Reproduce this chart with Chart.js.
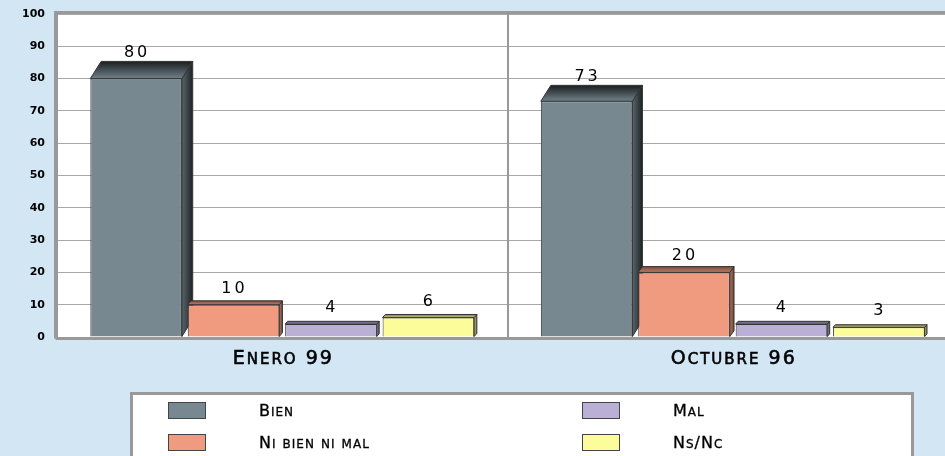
<!DOCTYPE html>
<html>
<head>
<meta charset="utf-8">
<script src="https://cdn.jsdelivr.net/npm/chart.js@4/dist/chart.umd.min.js"></script>
<style>
  html, body { margin: 0; padding: 0; overflow: hidden; background: #d2e6f4; }
  #wrap { width: 960px; height: 456px; }
</style>
</head>
<body>
<div id="wrap"><canvas id="c" width="960" height="456"></canvas></div>
<script>
const categories = ['Enero 99', 'Octubre 96'];
const seriesNames = ['Bien', 'Ni bien ni mal', 'Mal', 'Ns/Nc'];
const bien = [80, 73];
const niBienNiMal = [10, 20];
const mal = [4, 4];
const nsNc = [6, 3];
const yTicks = [0, 10, 20, 30, 40, 50, 60, 70, 80, 90, 100];

const colors = ['#778891', '#f09a80', '#bab0d5', '#fcfc9a'];
const FONT = '"DejaVu Sans", sans-serif';

function shade(hex, f) {
  const n = parseInt(hex.slice(1), 16);
  const r = Math.round(((n >> 16) & 255) * f), g = Math.round(((n >> 8) & 255) * f), b = Math.round((n & 255) * f);
  return `rgb(${r},${g},${b})`;
}
function depth(v) { return { dx: 2 + 0.11 * v, dy: 2 + 0.19 * v }; }

// draw text in small caps: capitals & digits at full size, lowercase as smaller capitals
function smallCaps(ctx, text, x, y, size, align, spacing, weight) {
  const small = Math.round(size * 0.78);
  const parts = [];
  for (const ch of text) {
    const isLower = ch !== ch.toUpperCase();
    parts.push({ ch: ch.toUpperCase(), sz: isLower ? small : size });
  }
  ctx.letterSpacing = '0px';
  let total = 0;
  parts.forEach(p => {
    ctx.font = `${p.sz}px ${FONT}`;
    p.w = ctx.measureText(p.ch).width + spacing;
    total += p.w;
  });
  total -= spacing;
  let cx = align === 'center' ? x - total / 2 : x;
  ctx.textAlign = 'left';
  ctx.textBaseline = 'alphabetic';
  ctx.lineWidth = weight;
  ctx.strokeStyle = ctx.fillStyle;
  parts.forEach(p => {
    ctx.font = `${p.sz}px ${FONT}`;
    ctx.fillText(p.ch, cx, y);
    if (weight > 0) ctx.strokeText(p.ch, cx, y);
    cx += p.w;
  });
}

const bgPlugin = {
  id: 'bg',
  beforeDraw(chart) {
    const { ctx, chartArea: a } = chart;
    ctx.save();
    ctx.fillStyle = '#ffffff';
    ctx.fillRect(a.left, a.top, a.right - a.left, a.bottom - a.top);
    ctx.restore();
  },
  afterDraw(chart) {
    const { ctx, chartArea: a } = chart;
    ctx.save();
    ctx.strokeStyle = '#999999';
    ctx.lineWidth = 3;
    ctx.beginPath();
    ctx.moveTo(a.left - 1.5, a.bottom + 1.5);
    ctx.lineTo(a.left - 1.5, a.top - 1.5);
    ctx.lineTo(a.right + 5, a.top - 1.5);
    ctx.stroke();
    ctx.beginPath();
    ctx.moveTo(a.left - 1.5, a.bottom + 1.5);
    ctx.lineTo(a.right + 5, a.bottom + 1.5);
    ctx.stroke();
    const xs = chart.scales.x;
    ctx.fillStyle = '#000';
    chart.data.labels.forEach((lab, i) => {
      smallCaps(ctx, lab, xs.getPixelForValue(i), a.bottom + 27, 19, 'center', 2, 0.6);
    });
    ctx.restore();
  }
};

const bar3d = {
  id: 'bar3d',
  beforeDatasetsDraw(chart) {
    const ctx = chart.ctx;
    chart.data.datasets.forEach((ds, di) => {
      const meta = chart.getDatasetMeta(di);
      meta.data.forEach((el, i) => {
        const v = ds.data[i];
        const { dx, dy } = depth(v);
        const x0 = el.x - el.width / 2, x1 = el.x + el.width / 2;
        const top = el.y, bot = el.base;
        const col = ds.backgroundColor;
        ctx.save();
        ctx.strokeStyle = '#333333';
        ctx.lineWidth = 1;
        let g = ctx.createLinearGradient(x1, 0, x1 + dx, 0);
        g.addColorStop(0, shade(col, 0.75));
        g.addColorStop(1, shade(col, di === 0 ? 0.25 : 0.45));
        ctx.fillStyle = g;
        ctx.beginPath();
        ctx.moveTo(x1, top);
        ctx.lineTo(x1 + dx, top - dy);
        ctx.lineTo(x1 + dx, bot - dy);
        ctx.lineTo(x1, bot);
        ctx.closePath();
        ctx.fill();
        ctx.stroke();
        g = ctx.createLinearGradient(0, top - dy, 0, top);
        g.addColorStop(0, shade(col, di === 0 ? 0.22 : 0.5));
        g.addColorStop(1, shade(col, di === 0 ? 0.95 : 0.8));
        ctx.fillStyle = g;
        ctx.beginPath();
        ctx.moveTo(x0, top);
        ctx.lineTo(x0 + dx, top - dy);
        ctx.lineTo(x1 + dx, top - dy);
        ctx.lineTo(x1, top);
        ctx.closePath();
        ctx.fill();
        ctx.stroke();
        ctx.restore();
      });
    });
  },
  afterDatasetsDraw(chart) {
    const ctx = chart.ctx;
    chart.data.datasets.forEach((ds, di) => {
      const meta = chart.getDatasetMeta(di);
      meta.data.forEach((el, i) => {
        const v = ds.data[i];
        const { dy } = depth(v);
        ctx.save();
        ctx.font = `16px ${FONT}`;
        ctx.letterSpacing = '3px';
        ctx.fillStyle = '#000';
        ctx.textAlign = 'center';
        ctx.textBaseline = 'alphabetic';
        ctx.fillText(String(v), el.x + 1, el.y - Math.max(12, dy + 4));
        ctx.restore();
      });
    });
  }
};

const legendPlugin = {
  id: 'boxLegend',
  afterDraw(chart) {
    const ctx = chart.ctx;
    ctx.save();
    const L = 131.5, T = 393.5, R = 912.5, B = 470;
    ctx.fillStyle = '#ffffff';
    ctx.fillRect(L, T, R - L, B - T);
    ctx.strokeStyle = '#999999';
    ctx.lineWidth = 3;
    ctx.strokeRect(L, T, R - L, B - T);
    const cols = [168, 582], txt = [259, 673], rows = [402, 434];
    chart.data.datasets.forEach((ds, di) => {
      const c = Math.floor(di / 2), r = di % 2;
      ctx.fillStyle = ds.backgroundColor;
      ctx.fillRect(cols[c] + 0.5, rows[r] + 0.5, 37, 16);
      ctx.strokeStyle = '#444';
      ctx.lineWidth = 1;
      ctx.strokeRect(cols[c] + 0.5, rows[r] + 0.5, 37, 16);
      ctx.fillStyle = '#000';
      smallCaps(ctx, ds.label, txt[c], rows[r] + 14, 16, 'left', 1, 0.3);
    });
    ctx.restore();
  }
};

const datasets = [bien, niBienNiMal, mal, nsNc].map((d, i) => ({
  label: seriesNames[i],
  data: d,
  backgroundColor: colors[i],
  borderColor: '#333333',
  borderWidth: 1,
  categoryPercentage: 0.865,
  barPercentage: 0.94
}));

new Chart(document.getElementById('c'), {
  type: 'bar',
  data: { labels: categories, datasets },
  options: {
    responsive: false,
    animation: false,
    devicePixelRatio: 1,
    layout: { padding: { top: 14, right: 2, left: 0, bottom: 0 } },
    plugins: { legend: { display: false }, tooltip: { enabled: false } },
    scales: {
      y: {
        min: 0, max: 100,
        afterBuildTicks(s) { s.ticks = yTicks.map(v => ({ value: v })); },
        afterFit(s) { s.width = 57; s.paddingTop = 0; s.paddingBottom = 0; },
        ticks: { color: '#000', font: { family: FONT, size: 11, weight: 'bold' }, padding: 12 },
        grid: { color: '#a8a8a8', lineWidth: 1, drawTicks: false },
        border: { display: false }
      },
      x: {
        afterFit(s) { s.height = 119; s.paddingLeft = 0; s.paddingRight = 0; },
        ticks: { color: 'rgba(0,0,0,0)', font: { family: FONT, size: 18 }, padding: 10 },
        grid: { offset: true, color: '#999999', lineWidth: 2, drawTicks: false },
        border: { display: false }
      }
    }
  },
  plugins: [bgPlugin, bar3d, legendPlugin]
});
</script>
</body>
</html>
